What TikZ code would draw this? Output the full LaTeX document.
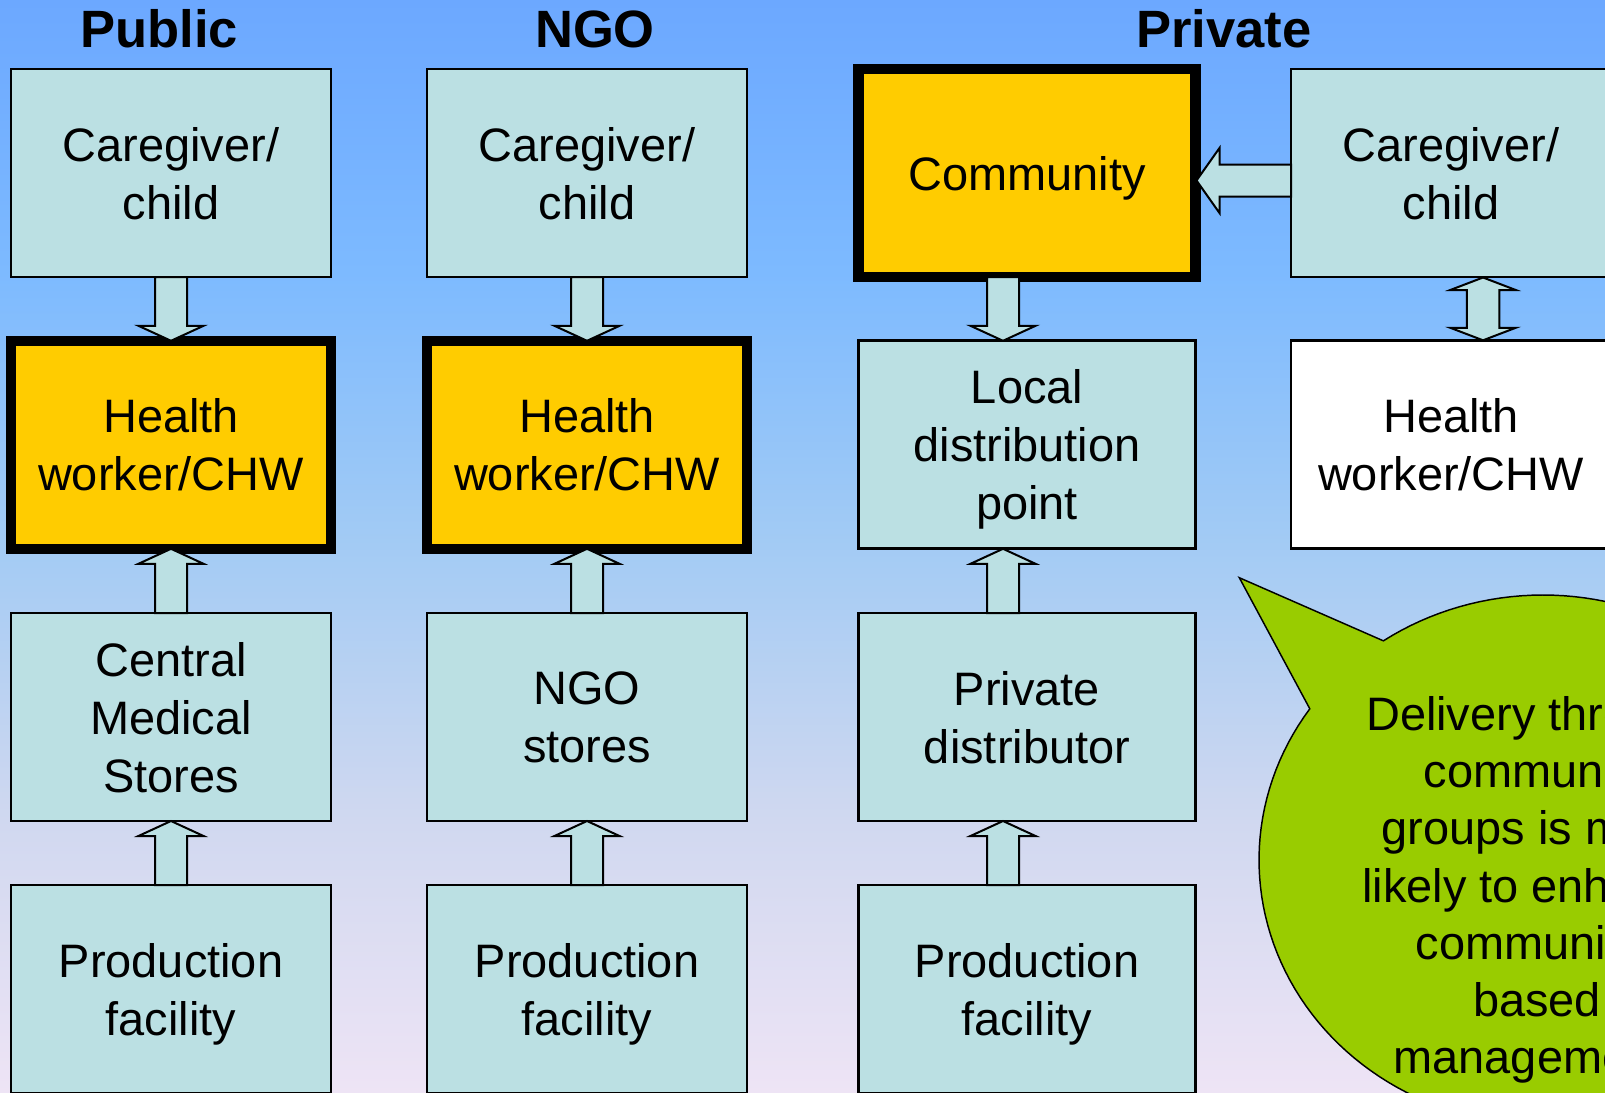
\documentclass[tikz,border=0pt]{standalone}
\usepackage{fontspec}
\setmainfont{Liberation Sans}
\usetikzlibrary{calc}
\definecolor{boxc}{RGB}{187,224,227}
\definecolor{yel}{RGB}{255,204,0}
\definecolor{grn}{RGB}{153,204,0}
\definecolor{bgA}{RGB}{238,228,245}
\definecolor{bgB}{RGB}{208,216,240}
\definecolor{bgC}{RGB}{163,203,244}
\definecolor{bgD}{RGB}{125,186,255}
\definecolor{bgE}{RGB}{108,168,255}
\pgfdeclareverticalshading{bgshade}{100bp}{color(0bp)=(bgA); color(25bp)=(bgA); color(37.5bp)=(bgB); color(50bp)=(bgC); color(62.5bp)=(bgD); color(75bp)=(bgE); color(100bp)=(bgE)}
\newsavebox\ndbox
\newcommand\nd[1]{\sbox\ndbox{#1}\dp\ndbox=0pt \usebox\ndbox}
\newcommand\blockarrow[3][11.25pt]{%
  \coordinate (bah) at ($(#3)!#1!(#2)$);
  \draw[arrowbox] ($(#2)!12pt!90:(#3)$) -- ($(bah)!12pt!90:(#3)$) -- ($(bah)!24.4pt!90:(#3)$) -- (#3)
    -- ($(bah)!24.4pt!-90:(#3)$) -- ($(bah)!12pt!-90:(#3)$) -- ($(#2)!12pt!-90:(#3)$) -- cycle;}
\newcommand\dblarrow[3][9.4pt]{%
  \coordinate (dah) at ($(#2)!#1!(#3)$);
  \coordinate (dbh) at ($(#3)!#1!(#2)$);
  \draw[arrowbox] (#2) -- ($(dah)!24.6pt!90:(#3)$) -- ($(dah)!12.2pt!90:(#3)$) -- ($(dbh)!12.2pt!90:(#3)$)
    -- ($(dbh)!24.6pt!90:(#3)$) -- (#3) -- ($(dbh)!24.6pt!-90:(#3)$) -- ($(dbh)!12.2pt!-90:(#3)$)
    -- ($(dah)!12.2pt!-90:(#3)$) -- ($(dah)!24.6pt!-90:(#3)$) -- cycle;}
\tikzset{
  box/.style={draw=black, line width=2pt, fill=boxc, minimum width=240pt, minimum height=156pt,
    outer sep=0pt, inner sep=0pt, align=center, font=\fontsize{35.2}{43.5}\selectfont},
  wide/.style={minimum width=252.75pt},
  hilite/.style={fill=yel, line width=7.9pt},
  plainbox/.style={fill=white},
  head/.style={font=\bfseries\fontsize{39.4}{47}\selectfont, anchor=base, inner sep=0pt},
  arrowbox/.style={draw=black, line width=1.5pt, fill=boxc, line join=miter},
  bubble/.style={draw=black, line width=1.1pt, fill=grn, line join=miter},
  btext/.style={align=center, inner sep=0pt, font=\fontsize{35.2}{42.9}\selectfont},
}
\begin{document}
\begin{tikzpicture}[x=0.75pt, y=-0.75pt]
\useasboundingbox (0,0) rectangle (1605,1092);
\clip (0,0) rectangle (1605,1092);
\shade[shading=bgshade] (0,0) rectangle (1605,1092);

% headings
\node[head] (hpub) at (159,47.7) {Public};
\node[head] (hngo) at (595,47.7) {NGO};
\node[head] (hpri) at (1224,47.7) {Private};

% column 1
\node[box] (c1r1) at (171,173) {Caregiver/\\\nd{child}};
\node[box,hilite] (c1r2) at (171,444.8) {Health\\\nd{worker/CHW}};
\node[box] (c1r3) at (171,717) {Central\\Medical\\\nd{Stores}};
\node[box] (c1r4) at (171,989) {Production\\\nd{facility}};
% column 2
\node[box] (c2r1) at (587,173) {Caregiver/\\\nd{child}};
\node[box,hilite] (c2r2) at (587,444.8) {Health\\\nd{worker/CHW}};
\node[box] (c2r3) at (587,717) {NGO\\\nd{stores}};
\node[box] (c2r4) at (587,989) {Production\\\nd{facility}};
% column 3
\node[box,wide,hilite] (c3r1) at (1027,173) {\nd{Community}};
\node[box,wide] (c3r2) at (1027,444.8) {Local\\distribution\\\nd{point}};
\node[box,wide] (c3r3) at (1027,717) {Private\\\nd{distributor}};
\node[box,wide] (c3r4) at (1027,989) {Production\\\nd{facility}};
% column 4
\node[box] (c4r1) at (1451,173) {Caregiver/\\\nd{child}};
\node[box,plainbox] (c4r2) at (1451,444.8) {Health\\\nd{worker/CHW}};

% arrows column 1
\blockarrow{c1r1.south}{c1r2.north}
\blockarrow{c1r3.north}{c1r2.south}
\blockarrow{c1r4.north}{c1r3.south}
% arrows column 2
\blockarrow{c2r1.south}{c2r2.north}
\blockarrow{c2r3.north}{c2r2.south}
\blockarrow{c2r4.north}{c2r3.south}
% arrows column 3
\coordinate (k1) at ($(c3r1.south)+(-24,0)$);
\coordinate (k2) at ($(c3r2.north)+(-24,0)$);
\coordinate (k3) at ($(c3r2.south)+(-24,0)$);
\coordinate (k4) at ($(c3r3.north)+(-24,0)$);
\coordinate (k5) at ($(c3r3.south)+(-24,0)$);
\coordinate (k6) at ($(c3r4.north)+(-24,0)$);
\blockarrow{k1}{k2}
\blockarrow{k4}{k3}
\blockarrow{k6}{k5}
% arrow caregiver -> community
\coordinate (l1) at ($(c4r1.west)+(0,7.5)$);
\coordinate (l2) at ($(c3r1.east)+(1,7.5)$);
\blockarrow[17.25pt]{l1}{l2}
% double arrow column 4
\coordinate (d1) at ($(c4r1.south)+(32,0.5)$);
\coordinate (d2) at ($(c4r2.north)+(32,-0.5)$);
\dblarrow{d1}{d2}

% speech bubble
\draw[bubble] (1239.3,577.7) -- plot[domain=-124.2:214.8, samples=160] ({1543+284*cos(\x)},{860+265*sin(\x)}) -- cycle;
\node[btext] (note) at (1537,885) {Delivery through\\community\\groups is more\\likely to enhance\\community-\\based\\\nd{management.}};
\end{tikzpicture}
\end{document}
